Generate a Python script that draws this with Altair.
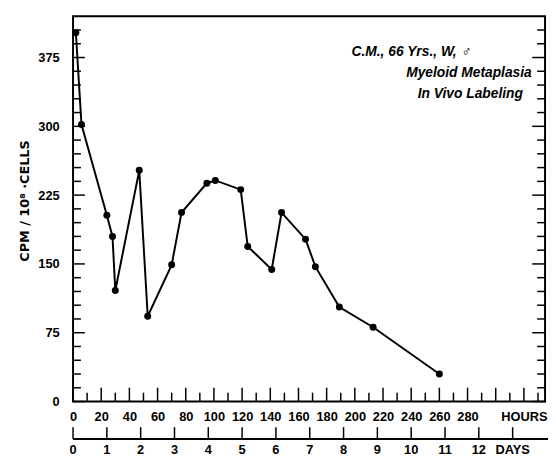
import altair as alt
import pandas as pd

hours = [2, 6, 24, 28, 30, 47, 53, 70, 77, 95, 101, 119, 124, 141, 148, 165, 172, 189, 213, 260]
cpm = [402, 302, 203, 180, 121, 252, 93, 149, 206, 238, 241, 231, 169, 144, 206, 177, 147, 103, 81, 30]

hour_major = list(range(0, 321, 20))
hour_minor = list(range(10, 331, 20))
cpm_major = [0, 75, 150, 225, 300, 375]
cpm_minor = [v for v in range(15, 420, 15) if v % 75 != 0]
day_ticks = list(range(0, 14))
day_labels = [str(d) for d in range(0, 13)] + ["DAYS"]

note_lines = ["C.M., 66 Yrs., W, \u2642", "Myeloid Metaplasia", "In Vivo Labeling"]
note_x = [240, 281, 282]
note_y = [381, 358, 335]

df = pd.DataFrame({"hours": hours, "cpm": cpm})
notes = pd.DataFrame({"text": note_lines, "hours": note_x, "cpm": note_y})
days_df = pd.DataFrame({"day": day_ticks, "label": day_labels})

W, H = 479, 391
XD = [0, 335]
YD = [0, 420]
FONT = "Liberation Sans"

xs = alt.Scale(domain=XD, nice=False, zero=False)
ys = alt.Scale(domain=YD, nice=False)

YTITLE = "CPM / 10\u2078 \u00b7CELLS"

AX = alt.Axis(
    orient="bottom", values=hour_major, title=None, grid=False,
    ticks=False, domain=False,
    labelExpr="datum.value == 320 ? 'HOURS' : (datum.value > 280 ? '' : datum.label)",
    labelPadding=9, labelBaseline="top", labelFont=FONT, labelFontSize=13,
    labelFontWeight="bold", labelColor="black", labelFlush=False)
AY = alt.Axis(
    orient="left", values=cpm_major, grid=False, ticks=False, domain=False,
    labelPadding=14, labelFont=FONT, labelFontSize=13, labelFontWeight="bold",
    labelColor="black",
    title=YTITLE, titleFont="DejaVu Sans", titleFontSize=13,
    titleFontWeight="bold", titleColor="black", titleX=-49, titleY=187,
    titleAngle=-90, titleBaseline="middle", titleAlign="center")

base = alt.Chart(df)

line = base.mark_line(color="black", strokeWidth=2).encode(
    x=alt.X("hours:Q", scale=xs, axis=AX, title=None),
    y=alt.Y("cpm:Q", scale=ys, axis=AY, title=YTITLE),
)

pts = base.mark_circle(color="black", size=50, opacity=1).encode(
    x=alt.X("hours:Q", scale=xs, axis=AX, title=None),
    y=alt.Y("cpm:Q", scale=ys, axis=AY, title=YTITLE),
)


def xticks(vals, length):
    return alt.Chart(pd.DataFrame({"hours": vals})).mark_rule(
        color="black", strokeWidth=1.5).encode(
        x=alt.X("hours:Q", scale=xs, axis=AX, title=None),
        y=alt.value(H), y2=alt.value(H - length))


def yticks(vals, x0, x1):
    return alt.Chart(pd.DataFrame({"cpm": vals})).mark_rule(
        color="black", strokeWidth=1.5).encode(
        y=alt.Y("cpm:Q", scale=ys, axis=AY, title=YTITLE),
        x=alt.value(x0), x2=alt.value(x1))


bottom_major = xticks(hour_major, 14)
bottom_minor = xticks(hour_minor, 9)
left_major = yticks(cpm_major, 0, 12)
left_minor = yticks(cpm_minor, 0, 8)
right_major = yticks(cpm_major, W, W - 13)
right_minor = yticks(cpm_minor, W, W - 8)

days_base = alt.Chart(days_df).transform_calculate(hours="datum.day * 24")
day_line = alt.Chart(days_df).mark_rule(color="black", strokeWidth=1.5).encode(
    x=alt.value(0), x2=alt.value(W + 3), y=alt.value(H + 38))
day_tick = days_base.mark_rule(color="black", strokeWidth=1.5).encode(
    x=alt.X("hours:Q", scale=xs, axis=AX, title=None),
    y=alt.value(H + 38), y2=alt.value(H + 26))
day_text = days_base.mark_text(
    font=FONT, fontSize=13, fontWeight="bold", color="black", baseline="middle"
).encode(
    x=alt.X("hours:Q", scale=xs, axis=AX, title=None),
    y=alt.value(H + 49),
    text="label:N",
)

text = alt.Chart(notes).mark_text(
    font=FONT, fontSize=14, fontStyle="italic", fontWeight="bold", color="black"
).encode(
    x=alt.X("hours:Q", scale=xs, axis=AX, title=None),
    y=alt.Y("cpm:Q", scale=ys, axis=AY, title=YTITLE),
    text="text:N",
)

chart = alt.layer(
    line, pts, bottom_major, bottom_minor, left_major, left_minor,
    right_major, right_minor, day_line, day_tick, day_text, text
).properties(
    width=W, height=H,
    autosize=alt.AutoSizeParams(type="none"),
    padding={"left": 66, "top": 5, "right": 3, "bottom": 58},
    background="white",
).configure_view(stroke="black", strokeWidth=2)

chart.save("out.html", embed_options={"renderer": "svg", "actions": False})
